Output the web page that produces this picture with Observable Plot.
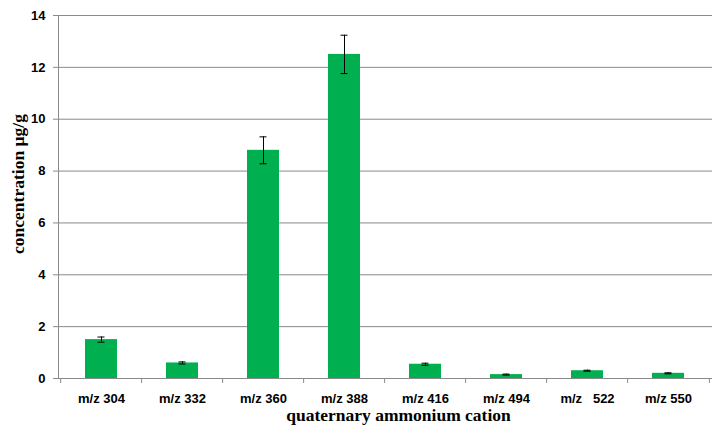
<!DOCTYPE html>
<html>
<head>
<meta charset="utf-8">
<script src="https://cdn.jsdelivr.net/npm/d3@7"></script>
<script src="https://cdn.jsdelivr.net/npm/@observablehq/plot@0.6"></script>
<style>
  body { margin: 0; background: white; }
  svg text { white-space: pre; }
</style>
</head>
<body>
<div id="chart"></div>
<script>
const categories = ["m/z 304", "m/z 332", "m/z 360", "m/z 388", "m/z 416", "m/z 494", "m/z   522", "m/z 550"];
const values = [1.5, 0.6, 8.8, 12.5, 0.55, 0.15, 0.3, 0.2];
const errors = [0.1, 0.04, 0.52, 0.74, 0.04, 0.02, 0.02, 0.02];
const yTicks = [0, 2, 4, 6, 8, 10, 12, 14];
const xTitle = "quaternary ammonium cation";
const yTitle = "concentration µg/g";

const data = categories.map((c, i) => ({c, v: values[i], e: errors[i]}));

const W = 722, H = 435, ML = 58, MR = 10, MT = 15, MB = 57;
const step = (W - ML - MR) / categories.length;
const grey = "#8a8a8a";
const sans = "Liberation Sans";
const serif = "Liberation Serif";

const chart = Plot.plot({
  width: W, height: H,
  marginLeft: ML, marginRight: MR, marginTop: MT, marginBottom: MB,
  style: {fontFamily: sans, background: "white", color: "black"},
  x: {domain: categories, paddingInner: 0.6, paddingOuter: 0.3, axis: null},
  y: {domain: [0, 14], axis: null},
  marks: [
    Plot.gridY(yTicks, {stroke: grey, strokeOpacity: 1}),
    Plot.barY(data, {x: "c", y: "v", fill: "#00b050"}),
    Plot.ruleX(data, {x: "c", y1: d => d.v - d.e, y2: d => d.v + d.e, stroke: "black"}),
    Plot.tickY(data, {x: "c", y: d => d.v + d.e, insetLeft: 12.5, insetRight: 12.5, stroke: "black"}),
    Plot.tickY(data, {x: "c", y: d => d.v - d.e, insetLeft: 12.5, insetRight: 12.5, stroke: "black"}),
    Plot.ruleY([0], {stroke: grey}),
    Plot.frame({anchor: "left", stroke: grey}),
    Plot.axisY(yTicks, {tickSize: 5, tickPadding: 8, label: null, stroke: grey, fill: "black",
      fontFamily: sans, fontWeight: "bold", fontSize: 13}),
    Plot.axisX({tickSize: 0, tickPadding: 15, label: null, fill: "black",
      fontFamily: sans, fontWeight: "bold", fontSize: 13}),
    Plot.axisX({tickSize: 5, dx: -step / 2, tickFormat: () => "", label: null, stroke: grey}),
    Plot.axisX([categories[categories.length - 1]], {tickSize: 5, dx: step / 2, tickFormat: () => "", label: null, stroke: grey}),
    Plot.text([xTitle], {text: d => d, frameAnchor: "bottom", dy: 37, dx: 13, lineAnchor: "middle", textAnchor: "middle",
      fontFamily: serif, fontWeight: "bold", fontSize: 17.5, fill: "black"}),
    Plot.text([yTitle], {text: d => d, frameAnchor: "left", rotate: -90, dx: -40, dy: -13, lineAnchor: "middle", textAnchor: "middle",
      fontFamily: serif, fontWeight: "bold", fontSize: 17.5, fill: "black"})
  ]
});
document.getElementById("chart").appendChild(chart);
</script>
</body>
</html>
